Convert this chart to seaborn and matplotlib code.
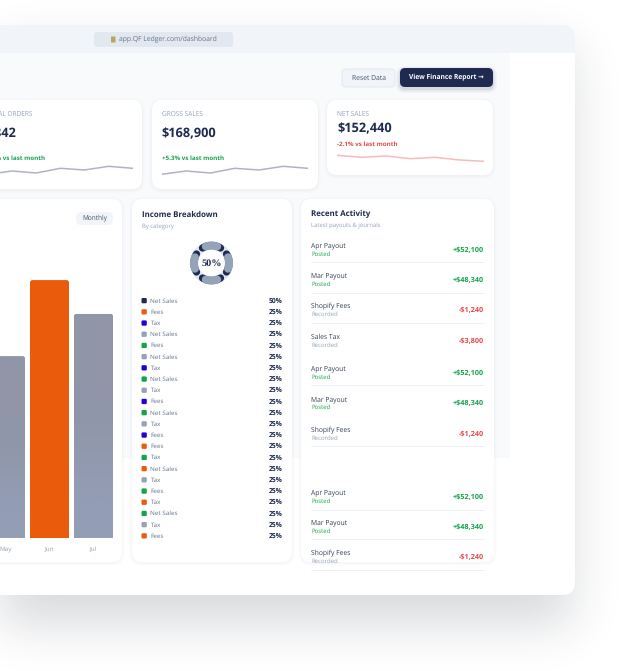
#!/usr/bin/env python
import matplotlib
matplotlib.use("Agg")
import matplotlib.pyplot as plt
from matplotlib.colors import to_rgb
from matplotlib.patches import FancyBboxPatch, Rectangle
import numpy as np
import pandas as pd
import seaborn as sns

# Data
months = ["May", "Jun", "Jul"]
monthly_sales = [119, 168.9, 146.7]
month_colors = ["#9199ae", "#ea5b0c", "#9199ae"]

spark_orders = [120, 123.3, 121.3, 126, 124.3, 128, 126]
spark_gross = [120, 123.3, 121.3, 126, 124.3, 128, 126]
spark_net = [126, 124, 125.3, 122.6, 124, 121.3, 120]

income_labels = ["Net Sales", "Fees", "Tax", "Net Sales", "Fees", "Net Sales", "Tax",
                 "Net Sales", "Tax", "Fees", "Net Sales", "Tax", "Fees", "Fees", "Tax",
                 "Net Sales", "Tax", "Fees", "Tax", "Net Sales", "Tax", "Fees"]
income_values = [50] + [25] * 21
income_colors = ["navy", "orange", "blue", "gray", "green", "gray", "blue",
                 "green", "gray", "blue", "green", "gray", "blue", "orange", "green",
                 "orange", "gray", "green", "orange", "green", "gray", "orange"]

activity_titles = ["Apr Payout", "Mar Payout", "Shopify Fees", "Sales Tax", "Apr Payout",
                   "Mar Payout", "Shopify Fees", "Apr Payout", "Mar Payout", "Shopify Fees"]
activity_status = ["Posted", "Posted", "Recorded", "Recorded", "Posted",
                   "Posted", "Recorded", "Posted", "Posted", "Recorded"]
activity_amounts = ["+$52,100", "+$48,340", "-$1,240", "-$3,800", "+$52,100",
                    "+$48,340", "-$1,240", "+$52,100", "+$48,340", "-$1,240"]
activity_y = [250, 280, 310, 341, 373, 403.5, 434, 497, 527, 557.5]
activity_rules = [262, 292.5, 322.5, 385, 446, 509.5, 539, 570]

NAVY = "#1e2a4f"
SWATCH = {"navy": NAVY, "orange": "#ea5b0c", "blue": "#2200dd",
          "gray": "#94a3b8", "green": "#16a34a"}
GREEN = "#16a34a"
RED = "#e5484d"
MUTED = "#94a3b8"
W, H = 626, 671

sns.set_theme(style="white")
plt.rcParams["font.family"] = ["Open Sans", "DejaVu Sans"]
plt.rcParams["text.hinting"] = "no_hinting"

figure = plt.figure(figsize=(W / 100, H / 100), dpi=100, facecolor="white")
page = figure.add_axes([0, 0, 1, 1], zorder=0)
page.set_xlim(0, W)
page.set_ylim(H, 0)
page.axis("off")


def px_axes(x0, y0, x1, y1, **kwargs):
    axes = figure.add_axes(
        [x0 / W, 1 - y1 / H, (x1 - x0) / W, (y1 - y0) / H], zorder=2, **kwargs)
    axes.patch.set_alpha(0)
    return axes


def box(x0, y0, x1, y1, radius, color, **kwargs):
    patch = FancyBboxPatch(
        (x0, y0), x1 - x0, y1 - y0,
        boxstyle="round,pad=0,rounding_size={}".format(radius),
        facecolor=color, edgecolor=kwargs.pop("edgecolor", "none"), **kwargs)
    page.add_patch(patch)
    return patch


def card(x0, y0, x1, y1):
    for grow, alpha in [(3.0, 0.006), (2.0, 0.009), (1.0, 0.016)]:
        box(x0 - grow, y0 - grow + 1, x1 + grow, y1 + grow + 1, 10 + grow, "#1e293b",
            alpha=alpha, zorder=3)
    box(x0, y0, x1, y1, 10, "white", zorder=3)


def label(x, y, text, size, color, weight="normal", ha="left", **kwargs):
    page.text(x, y, text, fontsize=size, color=color, fontweight=weight,
              ha=ha, va="center", zorder=6, **kwargs)


def blur(mask, sigma):
    radius = int(3 * sigma)
    kernel = np.exp(-0.5 * (np.arange(-radius, radius + 1) / sigma) ** 2)
    kernel /= kernel.sum()
    for axis in (0, 1):
        mask = np.apply_along_axis(np.convolve, axis, mask, kernel, mode="same")
    return mask


# Window shadow
shadow = np.zeros((H, W))
shadow[48:625, :572] = 1
shadow = blur(shadow, 24)
rgba = np.zeros((H, W, 4))
rgba[..., :3] = (0.12, 0.16, 0.23)
rgba[..., 3] = shadow * 0.17
page.imshow(rgba, extent=(0, W, H, 0), aspect="auto", zorder=0.5)
page.set_xlim(0, W)
page.set_ylim(H, 0)

# Window chrome
box(-30, 25, 575, 595, 13, "white", zorder=1)
box(-30, 25, 575, 70, 13, "#f1f5f9", zorder=1.1)
page.add_patch(Rectangle((-30, 53), 605, 30, facecolor="white", edgecolor="none", zorder=1.2))
page.add_patch(Rectangle((-30, 53), 540, 405, facecolor="#f8fafc", edgecolor="none", zorder=1.3))
box(94, 32, 233, 47, 3, "#e2e8f0", zorder=2)
box(111, 36.5, 115.5, 42.5, 0.6, "#b9a55e", zorder=2.1)
label(119, 39.5, "app.QF Ledger.com/dashboard", 4.9, "#64748b")

# Toolbar
box(342, 69, 395, 87, 4, "#f1f5f9", edgecolor="#e2e8f0", linewidth=0.7, zorder=2)
label(368.5, 78, "Reset Data", 4.9, "#475569", ha="center")
for grow, alpha in [(4, 0.03), (2.5, 0.05), (1, 0.08)]:
    box(400 - grow, 68 - grow + 2, 493 + grow, 87 + grow + 2, 5 + grow, NAVY, alpha=alpha, zorder=2)
box(400, 68, 493, 87, 5, NAVY, zorder=2.2)
label(446.5, 77.5, "View Finance Report \u2192", 4.8, "white", weight="bold", ha="center")

# KPI cards
card(-30, 100, 142, 189)
card(152, 100, 318, 189)
card(327, 100, 493, 175)

label(32, 114, "TOTAL ORDERS", 4.7, MUTED, ha="right")
label(16, 134, "1,842", 9.2, NAVY, weight="bold", ha="right")
label(45.5, 158, "+3.2% vs last month", 4.5, GREEN, weight="bold", ha="right")

label(161.5, 114, "GROSS SALES", 4.7, MUTED)
label(161.5, 134, "$168,900", 9.2, NAVY, weight="bold")
label(161.5, 158, "+5.3% vs last month", 4.5, GREEN, weight="bold")

label(337, 114, "NET SALES", 4.7, MUTED)
label(337, 129, "$152,440", 9.2, NAVY, weight="bold")
label(337, 144, "-2.1% vs last month", 4.5, RED, weight="bold")


def sparkline(x0, x1, bottom, values, color):
    axes = px_axes(x0, bottom - 14, x1, bottom + 2)
    frame = pd.DataFrame({"step": range(len(values)), "value": values})
    sns.lineplot(data=frame, x="step", y="value", ax=axes, color=color, linewidth=1.1)
    axes.set_xlim(0, len(values) - 1)
    axes.set_ylim(118, 134)
    axes.axis("off")
    axes.set_zorder(4)


sparkline(-12, 132.7, 174.3, spark_orders, "#aeb4c2")
sparkline(161.7, 307.7, 174.3, spark_gross, "#aeb4c2")
sparkline(337, 484, 161.3, spark_net, "#f6bcbc")

# Sales bars
card(-30, 199, 122, 562)
box(76, 212, 113, 225, 5, "#f1f5f9", zorder=4)
label(94.5, 219, "Monthly", 4.7, "#475569", ha="center")

bar_axes = px_axes(0, 220, 122, 538)
bar_axes.set_zorder(5)
bars = pd.DataFrame({"month": months, "sales": monthly_sales})
sns.barplot(data=bars, x="month", y="sales", hue="month", palette=month_colors,
            width=39 / 44, ax=bar_axes, legend=False, saturation=1)
per_px_x = 1 / 44
per_px_y = 1 / 1.527
bar_fade = np.array([[to_rgb("#9096a8")], [to_rgb("#9097aa")], [to_rgb("#939db5")]])
for patch in list(bar_axes.patches):
    x, width, height = patch.get_x(), patch.get_width(), patch.get_height()
    color = patch.get_facecolor()
    rounded = FancyBboxPatch(
        (x, -10), width, height + 10,
        boxstyle="round,pad=0,rounding_size={}".format(2.5 * per_px_x),
        mutation_aspect=per_px_y / per_px_x,
        facecolor=color, edgecolor="none")
    bar_axes.add_patch(rounded)
    patch.remove()
    # the grey bars turn a little bluer towards the base
    if color[0] < 0.7:
        fade = bar_axes.imshow(bar_fade, extent=(x, x + width, 0, height),
                               aspect="auto", interpolation="bilinear", zorder=3)
        fade.set_clip_path(rounded)
bar_axes.set_xlim(-5.5 / 44, (122 - 5.5) / 44)
bar_axes.set_ylim(0, 318 / 1.527)
bar_axes.set_xlabel("")
bar_axes.set_ylabel("")
bar_axes.set_yticks([])
bar_axes.tick_params(axis="x", length=0, pad=6, labelsize=4.6, labelcolor=MUTED)
sns.despine(ax=bar_axes, left=True, bottom=True)

# Income breakdown
card(132, 199, 292, 562)
label(141.5, 214.5, "Income Breakdown", 5.7, NAVY, weight="bold")
label(141.5, 226, "By category", 4.2, MUTED)

donut = px_axes(211.5 - 22, 263 - 22, 211.5 + 22, 263 + 22, projection="polar")
donut.set_zorder(5)
ring = np.linspace(0, 2 * np.pi, 200)
mid_ring = 17.5 / 22
donut.plot(ring, np.full(200, mid_ring), color="#dfe5ee", linewidth=5.8)
for center in np.deg2rad([0, 90, 180, 270]):
    navy_arc = np.linspace(center - np.deg2rad(31), center + np.deg2rad(31), 40)
    gray_arc = np.linspace(center - np.deg2rad(19), center + np.deg2rad(19), 40)
    donut.plot(navy_arc, np.full(40, mid_ring), color=NAVY, linewidth=5.2, solid_capstyle="round")
    donut.plot(gray_arc, np.full(40, mid_ring), color="#94a3b8", linewidth=5.8, solid_capstyle="round")
donut.set_ylim(0, 1)
donut.axis("off")
page.text(211.5, 263.5, "50%", fontsize=7.4, fontweight="bold", color=NAVY, ha="center",
          va="center", fontfamily=["Liberation Serif"], zorder=6)

for i, (name, value, color) in enumerate(zip(income_labels, income_values, income_colors)):
    y = 300.7 + i * 11.2
    box(141.5, y - 2.7, 146.8, y + 2.6, 1.2, SWATCH[color], zorder=5)
    label(150.5, y + 0.3, name, 4.6, "#64748b")
    label(282.5, y + 0.3, "{}%".format(value), 4.9, NAVY, weight="bold", ha="right")

# Recent activity
card(301, 199, 494, 562)
label(311, 214.5, "Recent Activity", 5.7, NAVY, weight="bold")
label(311, 226, "Latest payouts & journals", 4.2, MUTED)

for title, status, amount, y in zip(activity_titles, activity_status, activity_amounts, activity_y):
    label(311, y - 4, title, 4.9, "#334155")
    label(311, y + 4, status, 4.3, GREEN if status == "Posted" else MUTED)
    label(484, y, amount, 5.2, GREEN if amount[0] == "+" else RED, weight="bold", ha="right")

for y in activity_rules:
    page.plot([311, 484], [y, y], color="#eef2f6", linewidth=0.7, zorder=5)

plt.savefig("out.png", dpi=100)
